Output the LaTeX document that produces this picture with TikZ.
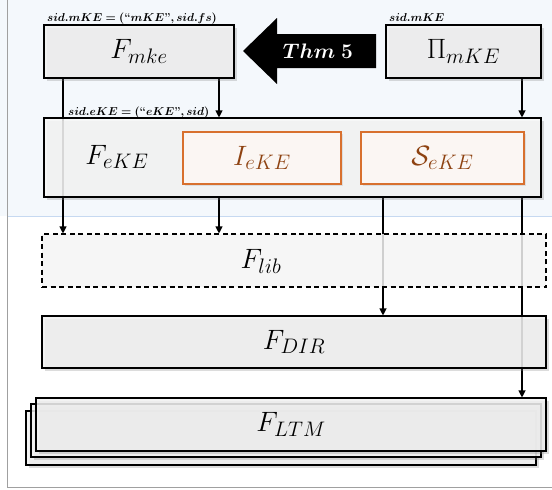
\RequirePackage{fix-cm}
\documentclass[tikz,border=0pt]{standalone}
\usepackage{amsmath}
\usepackage{bm}
\usetikzlibrary{shadows,arrows.meta}

% larger subscripts for the block names
\DeclareMathSizes{28}{28}{21}{15}

\definecolor{topbg}{HTML}{F4F8FC}
\definecolor{sepblue}{HTML}{C6D9F1}
\definecolor{framegray}{HTML}{A0A0A0}
\definecolor{boxfill}{HTML}{F1F1F1}
\definecolor{ekefill}{HTML}{F7F7F7}
\definecolor{libfill}{HTML}{F4F4F4}
\definecolor{subborder}{HTML}{D8702E}
\definecolor{subfill}{HTML}{FBF6F3}
\definecolor{subtext}{HTML}{8E4211}

\pgfdeclarelayer{bg}
\pgfsetlayers{bg,main}

\newcommand{\qo}{\textbf{``}}
\newcommand{\qc}{\textbf{''}}

\tikzset{
  bigfont/.style={font=\fontsize{28}{32}\selectfont},
  blk/.style={draw=black, line width=1.1pt, fill=boxfill, fill opacity=0.85,
    text opacity=1, inner sep=0pt, bigfont,
    drop shadow={opacity=0.28, shadow xshift=2.5pt, shadow yshift=-2.5pt}},
  libbox/.style={draw=black, line width=1.1pt, dash pattern=on 5pt off 3.5pt,
    fill=libfill, fill opacity=0.85, text opacity=1, inner sep=0pt, bigfont},
  subbox/.style={draw=subborder, line width=1.1pt, fill=subfill, text=subtext,
    inner sep=0pt, bigfont,
    drop shadow={opacity=0.18, shadow xshift=2pt, shadow yshift=-2pt}},
  plainlbl/.style={inner sep=0pt, bigfont},
  thmtext/.style={text=white, inner sep=0pt, font=\fontsize{21}{24}\selectfont},
  sidlbl/.style={anchor=base west, inner sep=0pt, font=\fontsize{11.5}{13}\selectfont},
  conn/.style={line width=1.1pt, -{Triangle[length=7pt,width=7pt]}},
}

\begin{document}
\begin{tikzpicture}[x=1pt,y=-1pt]
\useasboundingbox (0,0) rectangle (552,490);

% backdrop: tinted upper band, separator and frame
\begin{pgfonlayer}{bg}
  \fill[topbg] (0,0) rectangle (552,216);
  \draw[sepblue, line width=0.8pt] (7,216) -- (552,216);
  \draw[framegray, line width=1pt] (7,0) -- (7,487) -- (552,487);
\end{pgfonlayer}

% top row
\node[blk, minimum width=190pt, minimum height=53pt] (mke) at (139,51.5) {$F_{mke}$};
\node[blk, minimum width=155pt, minimum height=53pt] (pi) at (463.5,51.5) {$\Pi_{mKE}$};

% theorem arrow
\fill[black] (243,51) -- (277,18) -- (277,34) -- (376,34) -- (376,68)
  -- (277,68) -- (277,84) -- cycle;
\node[thmtext] (thm) at (318,51) {$\bm{Thm}\;\mathbf{5}$};

% session identifier labels
\node[sidlbl] (sidm) at (47,21) {$\bm{sid.mKE = (}\qo\bm{mKE}\qc\bm{, sid.fs)}$};
\node[sidlbl] (sidp) at (389,21) {$\bm{sid.mKE}$};
\node[sidlbl] (side) at (68,115) {$\bm{sid.eKE = (}\qo\bm{eKE}\qc\bm{, sid)}$};

% eKE block with its two parts
\node[blk, fill=ekefill, minimum width=497pt, minimum height=79pt] (eke) at (292.5,157.5) {};
\node[plainlbl] (ekelbl) at (117,157) {$F_{eKE}$};
\node[subbox, minimum width=158pt, minimum height=52pt] (ieke) at (262,158) {$I_{eKE}$};
\node[subbox, minimum width=163pt, minimum height=52pt] (seke) at (442.5,158) {$\mathcal{S}_{eKE}$};

% lower layers
\node[libbox, minimum width=504pt, minimum height=53pt] (lib) at (294,260.5) {};
\node[plainlbl] (liblbl) at (261,261) {$F_{lib}$};
\node[blk, minimum width=504pt, minimum height=52pt] (dir) at (294,342) {$F_{DIR}$};
\node[blk, minimum width=510pt, minimum height=54pt] (ltmc) at (281,438) {};
\node[blk, minimum width=510pt, minimum height=53pt] (ltmb) at (286,430.5) {};
\node[blk, minimum width=510pt, minimum height=53pt] (ltm) at (291,424.5) {$F_{LTM}$};

% connector columns
\coordinate (c1) at (63,0);
\coordinate (c2) at (219,0);
\coordinate (c3) at (383,0);
\coordinate (c4) at (522,0);

\begin{pgfonlayer}{bg}
  \draw[conn] (mke.south -| c1) -- (lib.north -| c1);
  \draw[conn] (mke.south -| c2) -- (eke.north -| c2);
  \draw[conn] (pi.south -| c4) -- (eke.north -| c4);
  \draw[conn] (eke.south -| c2) -- (lib.north -| c2);
  \draw[conn] (eke.south -| c3) -- (dir.north -| c3);
  \draw[conn] (eke.south -| c4) -- (ltm.north -| c4);
\end{pgfonlayer}
\end{tikzpicture}
\end{document}
